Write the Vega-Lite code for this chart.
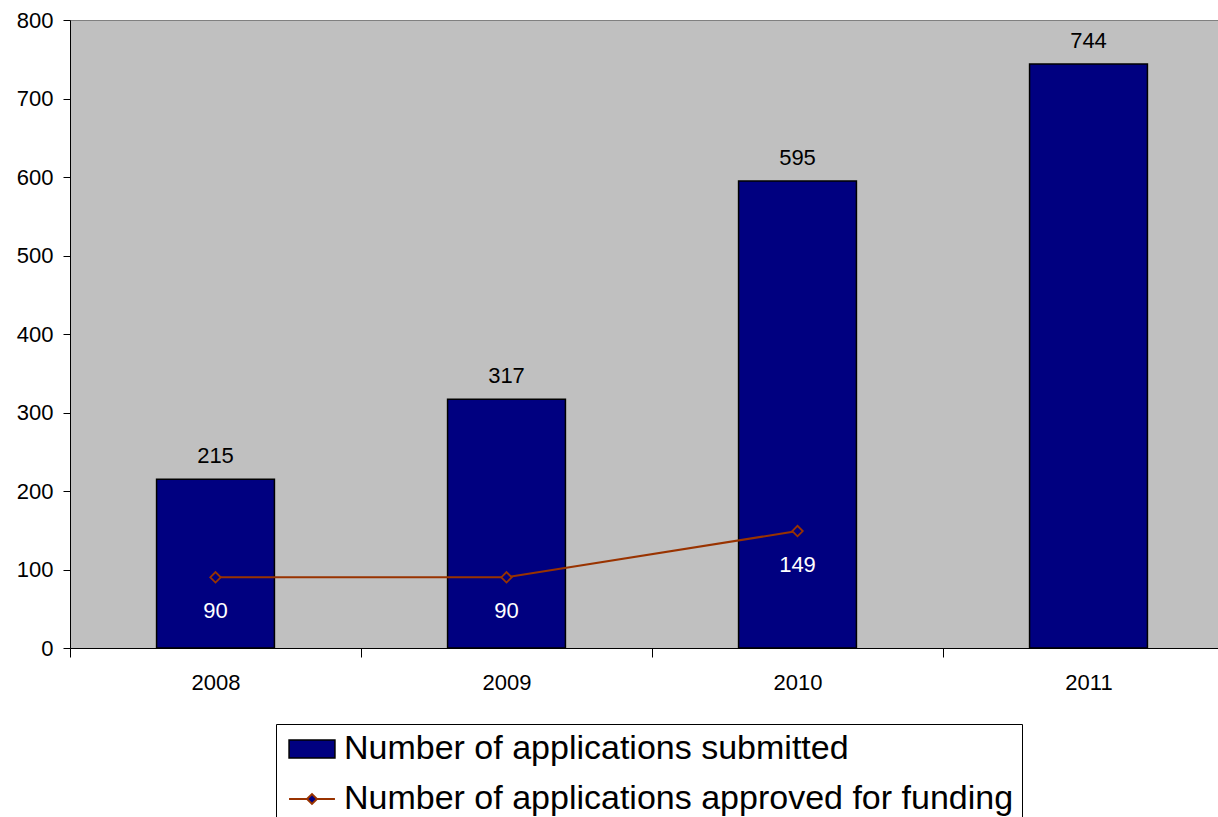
{
  "$schema": "https://vega.github.io/schema/vega-lite/v6.json",
  "width": 1148,
  "height": 628,
  "autosize": {"type": "none"},
  "padding": {"left": 70, "top": 20, "right": 0, "bottom": 169},
  "background": "white",
  "config": {
    "font": "Liberation Sans",
    "view": {"fill": "#C0C0C0", "stroke": "#808080", "strokeWidth": 1}
  },
  "data": {
    "values": [
      {"year": "2008", "submitted": 215, "approved": 90},
      {"year": "2009", "submitted": 317, "approved": 90},
      {"year": "2010", "submitted": 595, "approved": 149},
      {"year": "2011", "submitted": 744, "approved": null}
    ]
  },
  "encoding": {
    "x": {
      "field": "year",
      "type": "ordinal",
      "scale": {"range": [0, 1164], "paddingInner": 0, "paddingOuter": 0},
      "axis": {
        "title": null,
        "tickBand": "extent",
        "tickSize": 9,
        "tickColor": "black",
        "domainColor": "black",
        "labelAngle": 0,
        "labelFontSize": 22,
        "labelColor": "black",
        "labelPadding": 15,
        "grid": false
      }
    }
  },
  "layer": [
    {
      "mark": {"type": "bar", "fill": "#000080", "stroke": "black", "strokeWidth": 1.5, "width": {"band": 0.405}},
      "encoding": {
        "y": {
          "field": "submitted",
          "type": "quantitative",
          "scale": {"domain": [0, 800]},
          "axis": {
            "title": null,
            "values": [0, 100, 200, 300, 400, 500, 600, 700, 800],
            "tickSize": 7,
            "tickColor": "black",
            "domainColor": "black",
            "labelFontSize": 22,
            "labelColor": "black",
            "labelPadding": 10,
            "grid": false
          }
        }
      }
    },
    {
      "mark": {"type": "text", "dy": -23, "fontSize": 22, "color": "black"},
      "encoding": {
        "y": {"field": "submitted", "type": "quantitative"},
        "text": {"field": "submitted", "type": "quantitative"}
      }
    },
    {
      "transform": [{"filter": "isValid(datum.approved)"}],
      "mark": {"type": "line", "strokeWidth": 2},
      "encoding": {
        "y": {"field": "approved", "type": "quantitative"},
        "color": {
          "datum": "Number of applications approved for funding",
          "scale": {
            "domain": ["Number of applications submitted", "Number of applications approved for funding"],
            "range": ["black", "#993300"]
          },
          "legend": {
            "title": null,
            "orient": "none",
            "legendX": 206,
            "legendY": 704,
            "direction": "vertical",
            "strokeColor": "black",
            "fillColor": "white",
            "padding": 8,
            "labelFontSize": 34,
            "labelColor": "black",
            "labelLimit": 1000,
            "symbolSize": 900,
            "symbolOffset": 11,
            "labelOffset": 15,
            "rowPadding": 16,
            "encode": {
              "symbols": {
                "update": {
                  "shape": {"signal": "datum.value === 'Number of applications submitted' ? 'M-1.53,-0.6H1.53V0.6H-1.53Z' : 'M-1.53,0H-0.33M0.33,0H1.53M-0.33,0L0,-0.33L0.33,0L0,0.33Z'"},
                  "fill": {"value": "#000080"},
                  "strokeWidth": {"signal": "datum.value === 'Number of applications submitted' ? 1.5 : 2"},
                  "opacity": {"value": 1},
                  "fillOpacity": {"value": 1}
                }
              }
            }
          }
        }
      }
    },
    {
      "transform": [{"filter": "isValid(datum.approved)"}],
      "mark": {"type": "point", "shape": "diamond", "filled": true, "fill": "#000080", "stroke": "#993300", "strokeWidth": 1.8, "size": 110, "opacity": 1},
      "encoding": {
        "y": {"field": "approved", "type": "quantitative"}
      }
    },
    {
      "transform": [{"filter": "isValid(datum.approved)"}],
      "mark": {"type": "text", "dy": 34, "fontSize": 22, "color": "white"},
      "encoding": {
        "y": {"field": "approved", "type": "quantitative"},
        "text": {"field": "approved", "type": "quantitative"}
      }
    }
  ]
}
